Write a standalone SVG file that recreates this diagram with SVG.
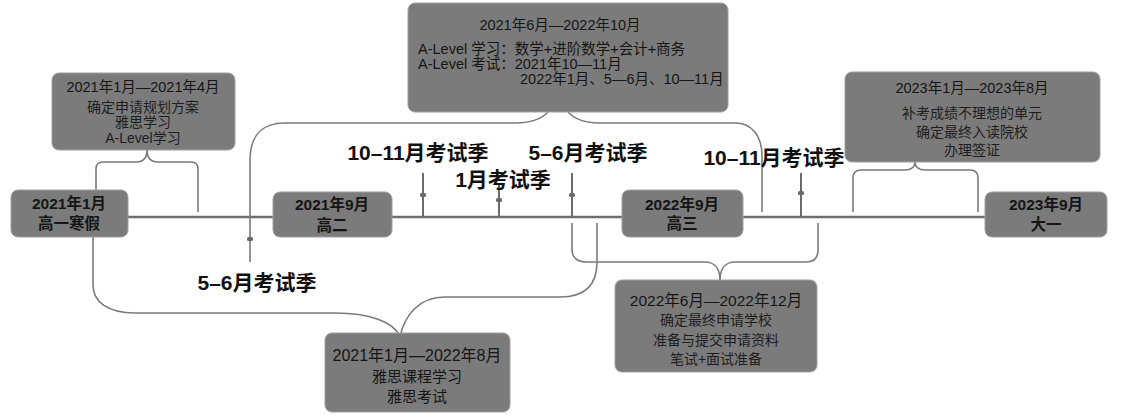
<svg xmlns="http://www.w3.org/2000/svg" width="1126" height="419" viewBox="0 0 1126 419">
<style>
.box{fill:#7b7b7b;stroke:#a0a0a0;stroke-width:1}
.t{font-family:"Liberation Sans","Noto Sans CJK SC",sans-serif;fill:#151515;text-anchor:middle}
.main{font-size:15.5px;font-weight:bold}
.ttl{font-size:14.5px}
.body{font-size:14px;fill:#1e1e1e}
.lbl{font-family:"Liberation Sans","Noto Sans CJK SC",sans-serif;font-size:21px;font-weight:bold;fill:#111;text-anchor:middle}
.con{fill:none;stroke:#7a7a7a;stroke-width:1.6}
.tick{fill:none;stroke:#6a6a6a;stroke-width:2}
.dot{fill:#6a6a6a}
</style>
<rect width="1126" height="419" fill="#ffffff"/>
<g id="connectors">
<line x1="128" y1="217" x2="985" y2="217" stroke="#6e6e6e" stroke-width="2.5"/>
<path class="con" d="M147,150 C147,158 143,162 136,162 L103,162 Q96,162 96,169 L96,190"/>
<path class="con" d="M147,150 C147,158 151,162 158,162 L191,162 Q198,162 198,169 L198,212"/>
<path class="con" d="M552,106 C546,118 532,123 515,123 L285,123 C262,123 250,136 250,160 L250,262"/>
<path class="con" d="M564,106 C570,118 584,123 600,123 L735,123 C752,123 762,136 762,156 L762,212"/>
<path class="con" d="M915,162 C915,167 911,170 905,170 L861,170 Q853,170 853,178 L853,212"/>
<path class="con" d="M915,162 C915,167 919,170 925,170 L970,170 Q978,170 978,178 L978,212"/>
<path class="con" d="M93,237 L93,285 C93,302 108,313 135,313 L335,313 C370,313 393,322 400,336"/>
<path class="con" d="M400,336 C405,316 418,297 445,297 L560,297 C585,297 597,285 597,262 L597,223"/>
<path class="con" d="M572,223 L572,250 C572,258 578,262 587,262 L705,262 C714,262 720,268 720,280"/>
<path class="con" d="M720,280 C720,268 726,262 735,262 L806,262 C814,262 818,258 818,250 L818,223"/>
<line class="tick" x1="423" y1="173" x2="423" y2="217"/>
<line class="tick" x1="499" y1="185" x2="499" y2="217"/>
<line class="tick" x1="572" y1="173" x2="572" y2="217"/>
<line class="tick" x1="801" y1="173" x2="801" y2="217"/>
<rect class="dot" x="420" y="193" width="6" height="4" rx="1.5"/>
<rect class="dot" x="496" y="198" width="6" height="4" rx="1.5"/>
<rect class="dot" x="569" y="193" width="6" height="4" rx="1.5"/>
<rect class="dot" x="798" y="191" width="6" height="4" rx="1.5"/>
<rect class="dot" x="247" y="237" width="6" height="4" rx="1.5"/>
</g>
<g id="n2021-01">
<rect class="box" x="11" y="190" width="117" height="47" rx="7"/>
<text class="t main" x="69" y="209">2021年1月</text>
<text class="t main" x="69" y="229">高一寒假</text>
</g>
<g id="n2021-09">
<rect class="box" x="273" y="192" width="119" height="45" rx="7"/>
<text class="t main" x="332" y="210">2021年9月</text>
<text class="t main" x="332" y="231">高二</text>
</g>
<g id="n2022-09">
<rect class="box" x="622" y="190" width="121" height="47" rx="7"/>
<text class="t main" x="682" y="210">2022年9月</text>
<text class="t main" x="682" y="229">高三</text>
</g>
<g id="n2023-09">
<rect class="box" x="985" y="192" width="122" height="45" rx="7"/>
<text class="t main" x="1046" y="210">2023年9月</text>
<text class="t main" x="1046" y="230">大一</text>
</g>
<g id="p2021-01-04">
<rect class="box" x="52" y="73" width="183" height="77" rx="7"/>
<text class="t ttl" x="143" y="92">2021年1月—2021年4月</text>
<text class="t body" x="143" y="112">确定申请规划方案</text>
<text class="t body" x="143" y="127">雅思学习</text>
<text class="t body" x="143" y="143">A-Level学习</text>
</g>
<g id="p2021-06-2022-10">
<rect class="box" x="408" y="3" width="320" height="109" rx="7"/>
<text class="t ttl" x="560" y="30">2021年6月—2022年10月</text>
<text class="t ttl" x="418" y="54" style="text-anchor:start">A-Level 学习：数学+进阶数学+会计+商务</text>
<text class="t ttl" x="418" y="69" style="text-anchor:start">A-Level 考试：2021年10—11月</text>
<text class="t ttl" x="520" y="84" style="text-anchor:start">2022年1月、5—6月、10—11月</text>
</g>
<g id="p2023-01-08">
<rect class="box" x="845" y="72" width="255" height="90" rx="7"/>
<text class="t ttl" x="972" y="93">2023年1月—2023年8月</text>
<text class="t body" x="972" y="118">补考成绩不理想的单元</text>
<text class="t body" x="972" y="137">确定最终入读院校</text>
<text class="t body" x="972" y="155">办理签证</text>
</g>
<g id="p2021-01-2022-08">
<rect class="box" x="325" y="333" width="185" height="79" rx="7"/>
<text class="t" x="417" y="361" style="font-size:16px">2021年1月—2022年8月</text>
<text class="t" x="417" y="382" style="font-size:15px">雅思课程学习</text>
<text class="t" x="417" y="402" style="font-size:15px">雅思考试</text>
</g>
<g id="p2022-06-12">
<rect class="box" x="615" y="280" width="202" height="92" rx="7"/>
<text class="t" x="716" y="306" style="font-size:15.5px">2022年6月—2022年12月</text>
<text class="t body" x="716" y="325">确定最终申请学校</text>
<text class="t body" x="716" y="345">准备与提交申请资料</text>
<text class="t body" x="716" y="364">笔试+面试准备</text>
</g>
<g id="labels">
<text class="lbl" x="418" y="160">10–11月考试季</text>
<text class="lbl" x="588" y="160">5–6月考试季</text>
<text class="lbl" x="503" y="187">1月考试季</text>
<text class="lbl" x="774" y="165">10–11月考试季</text>
<text class="lbl" x="257" y="290">5–6月考试季</text>
</g>
</svg>
